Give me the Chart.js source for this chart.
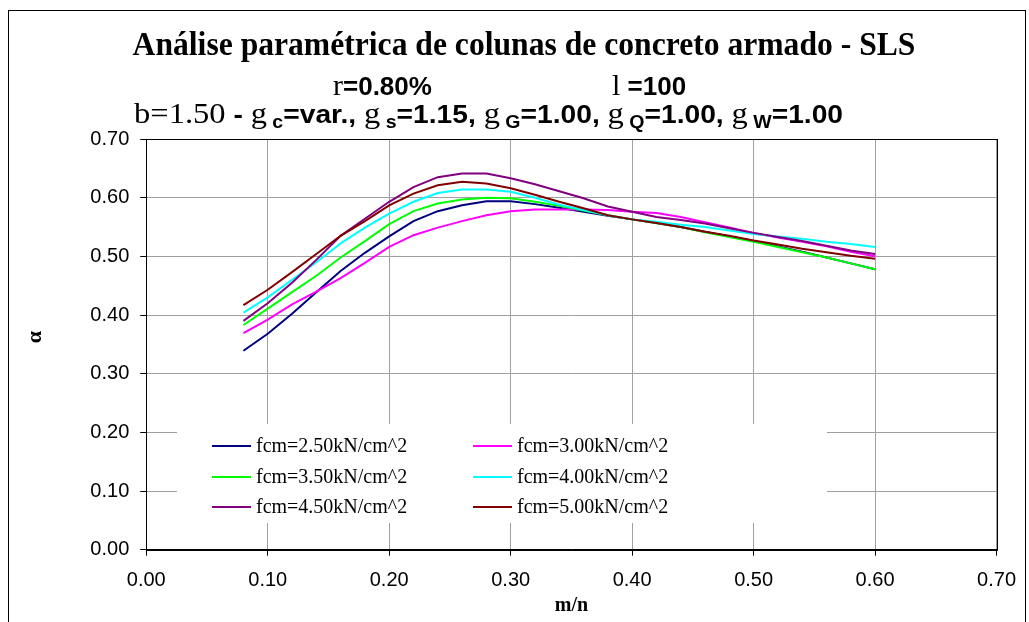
<!DOCTYPE html>
<html>
<head>
<meta charset="utf-8">
<script src="https://cdn.jsdelivr.net/npm/chart.js@4.4.0/dist/chart.umd.min.js"></script>
<style>
  html, body { margin: 0; padding: 0; background: #ffffff; }
  #wrap { width: 1029px; height: 622px; position: relative; }
  canvas { display: block; }
</style>
</head>
<body>
<div id="wrap"><canvas id="chart" width="1029" height="622"></canvas></div>
<script>
// Relative moment m/n (x axis)
const ratioMN = [0.08, 0.10, 0.12, 0.14, 0.16, 0.18, 0.20, 0.22, 0.24, 0.26, 0.28, 0.30, 0.32, 0.34,
                 0.36, 0.38, 0.40, 0.42, 0.44, 0.46, 0.48, 0.50, 0.52, 0.54, 0.56, 0.58, 0.60];

// alpha for each concrete strength
const fcm250 = [0.339, 0.368, 0.402, 0.439, 0.475, 0.506, 0.534, 0.560, 0.577, 0.587, 0.594, 0.594, 0.589, 0.583,
                0.576, 0.569, 0.563, 0.557, 0.550, 0.542, 0.534, 0.526, 0.517, 0.508, 0.498, 0.488, 0.478];
const fcm300 = [0.369, 0.392, 0.418, 0.440, 0.463, 0.489, 0.516, 0.536, 0.549, 0.560, 0.570, 0.577, 0.580, 0.580,
                0.580, 0.579, 0.576, 0.574, 0.567, 0.558, 0.549, 0.540, 0.532, 0.525, 0.517, 0.508, 0.500];
const fcm350 = [0.383, 0.411, 0.439, 0.467, 0.498, 0.526, 0.555, 0.577, 0.590, 0.597, 0.600, 0.599, 0.593, 0.586,
                0.578, 0.570, 0.563, 0.557, 0.550, 0.541, 0.533, 0.525, 0.516, 0.507, 0.498, 0.488, 0.478];
const fcm400 = [0.404, 0.430, 0.460, 0.490, 0.522, 0.549, 0.573, 0.593, 0.608, 0.614, 0.614, 0.610, 0.600, 0.588,
                0.579, 0.570, 0.563, 0.559, 0.554, 0.550, 0.544, 0.538, 0.534, 0.530, 0.525, 0.521, 0.516];
const fcm450 = [0.390, 0.420, 0.455, 0.494, 0.535, 0.564, 0.593, 0.618, 0.635, 0.641, 0.641, 0.633, 0.623, 0.611,
                0.599, 0.585, 0.576, 0.567, 0.562, 0.556, 0.548, 0.540, 0.533, 0.526, 0.518, 0.510, 0.504];
const fcm500 = [0.417, 0.443, 0.473, 0.504, 0.535, 0.560, 0.587, 0.607, 0.621, 0.627, 0.624, 0.616, 0.605, 0.593,
                0.582, 0.570, 0.563, 0.557, 0.550, 0.542, 0.535, 0.527, 0.520, 0.513, 0.507, 0.501, 0.496];

const seriesLabels = ['fcm=2.50kN/cm^2', 'fcm=3.00kN/cm^2', 'fcm=3.50kN/cm^2',
                      'fcm=4.00kN/cm^2', 'fcm=4.50kN/cm^2', 'fcm=5.00kN/cm^2'];
const seriesValues = [fcm250, fcm300, fcm350, fcm400, fcm450, fcm500];
const seriesColors = ['#000080', '#FF00FF', '#00FF00', '#00FFFF', '#800080', '#800000'];

const xTickMin = 0.0, xTickMax = 0.7, xTickStep = 0.1;
const yTickMin = 0.0, yTickMax = 0.7, yTickStep = 0.1;

const titleLine1 = 'Análise paramétrica de colunas de concreto armado - SLS';
const xAxisTitle = 'm/n';
const yAxisTitle = 'α';

const SERIF = '"Liberation Serif", "Times New Roman", serif';
const SANS = '"Liberation Sans", Arial, sans-serif';

const SER = '30px ' + SERIF;
const BLD = 'bold 26px ' + SANS;
const SUB = 'bold 18px ' + SANS;

// heading lines built from runs of text, each with its own font and baseline shift
const titleLine2 = [
  [{ t: 'r', f: SER }, { t: '=0.80%', f: BLD }],
  [{ t: 'l', f: SER }, { t: ' =100', f: BLD }]
];
const titleLine3 = [
  { t: 'b=1.50', f: SER },
  { t: ' - ', f: BLD },
  { t: 'g', f: SER }, { t: ' c', f: SUB, dy: 5 },
  { t: '=var., ', f: BLD },
  { t: 'g', f: SER }, { t: ' s', f: SUB, dy: 5 },
  { t: '=1.15, ', f: BLD },
  { t: 'g', f: SER }, { t: ' G', f: SUB, dy: 5 },
  { t: '=1.00, ', f: BLD },
  { t: 'g', f: SER }, { t: ' Q', f: SUB, dy: 5 },
  { t: '=1.00, ', f: BLD },
  { t: 'g', f: SER }, { t: ' W', f: SUB, dy: 5 },
  { t: '=1.00', f: BLD }
];

function drawRuns(ctx, runs, x, y, sx) {
  ctx.save();
  ctx.translate(x, y);
  ctx.scale(sx || 1, 1);
  ctx.textAlign = 'left';
  ctx.textBaseline = 'alphabetic';
  let cx = 0;
  runs.forEach(r => {
    ctx.font = r.f;
    ctx.fillText(r.t, cx, r.dy || 0);
    cx += ctx.measureText(r.t).width;
  });
  ctx.restore();
}

const decorations = {
  id: 'decorations',
  beforeDraw(chart) {
    const ctx = chart.ctx;
    ctx.save();
    ctx.fillStyle = '#ffffff';
    ctx.fillRect(0, 0, chart.width, chart.height);
    ctx.restore();
  },
  afterDraw(chart) {
    const ctx = chart.ctx;
    const a = chart.chartArea;
    ctx.save();

    // plot box
    ctx.strokeStyle = '#000000';
    ctx.lineWidth = 1;
    ctx.strokeRect(Math.round(a.left) + 0.5, Math.round(a.top) + 0.5,
                   Math.round(a.right) - Math.round(a.left), Math.round(a.bottom) - Math.round(a.top));

    // outer frame
    ctx.strokeRect(8.5, 10.5, 1017, 700);

    // legend inside the plot
    ctx.fillStyle = '#ffffff';
    ctx.fillRect(177, 424, 650, 99);
    const colX = [212, 473];
    const rowY = [446, 477, 507];
    chart.data.datasets.forEach((ds, i) => {
      const cx = colX[i % 2];
      const cy = rowY[Math.floor(i / 2)];
      ctx.strokeStyle = ds.borderColor;
      ctx.lineWidth = 2;
      ctx.beginPath();
      ctx.moveTo(cx, cy);
      ctx.lineTo(cx + 39, cy);
      ctx.stroke();
      ctx.fillStyle = '#000000';
      ctx.font = '20px ' + SERIF;
      ctx.textAlign = 'left';
      ctx.textBaseline = 'middle';
      ctx.fillText(ds.label, cx + 44, cy + 1);
    });

    // headings
    ctx.fillStyle = '#000000';
    ctx.save();
    ctx.translate(524, 55);
    ctx.scale(0.93, 1);
    ctx.font = 'bold 34px ' + SERIF;
    ctx.textAlign = 'center';
    ctx.textBaseline = 'alphabetic';
    ctx.fillText(titleLine1, 0, 0);
    ctx.restore();

    drawRuns(ctx, titleLine2[0], 333, 95);
    drawRuns(ctx, titleLine2[1], 612, 95);

    drawRuns(ctx, titleLine3, 134, 123, 1.085);

    // axis titles
    ctx.font = 'bold 20px ' + SERIF;
    ctx.textAlign = 'center';
    ctx.textBaseline = 'middle';
    ctx.fillText(xAxisTitle, (a.left + a.right) / 2, 606);

    ctx.save();
    ctx.translate(35, 337);
    ctx.rotate(-Math.PI / 2);
    ctx.font = 'bold 22px ' + SERIF;
    ctx.fillText(yAxisTitle, 0, 0);
    ctx.restore();

    ctx.restore();
  }
};

const datasets = seriesLabels.map((label, i) => ({
  label: label,
  data: ratioMN.map((x, j) => ({ x: x, y: seriesValues[i][j] })),
  borderColor: seriesColors[i],
  backgroundColor: seriesColors[i],
  borderWidth: 2,
  pointRadius: 0,
  tension: 0,
  fill: false,
  order: seriesLabels.length - i
}));

const tickFont = { family: 'Liberation Sans', size: 20 };

new Chart(document.getElementById('chart'), {
  type: 'line',
  data: { datasets: datasets },
  options: {
    responsive: false,
    animation: false,
    devicePixelRatio: 1,
    layout: { padding: { top: 139, right: 30.5, left: 0, bottom: 0 } },
    plugins: { legend: { display: false }, title: { display: false }, tooltip: { enabled: false } },
    scales: {
      x: {
        type: 'linear',
        min: xTickMin, max: xTickMax,
        ticks: {
          stepSize: xTickStep, autoSkip: false, maxRotation: 0,
          font: tickFont, color: '#000000', padding: 13,
          callback: v => v.toFixed(2)
        },
        grid: { color: '#a0a0a0', tickColor: '#000000', tickLength: 6, lineWidth: 1 },
        border: { color: '#000000', width: 1 },
        afterFit: s => { s.height = 72.3; }
      },
      y: {
        type: 'linear',
        min: yTickMin, max: yTickMax,
        ticks: {
          stepSize: yTickStep, autoSkip: false,
          font: tickFont, color: '#000000', padding: 11,
          callback: v => v.toFixed(2)
        },
        grid: { color: '#a0a0a0', tickColor: '#000000', tickLength: 6, lineWidth: 1 },
        border: { color: '#000000', width: 1 },
        afterFit: s => { s.width = 146.25; }
      }
    }
  },
  plugins: [decorations]
});
</script>
</body>
</html>
